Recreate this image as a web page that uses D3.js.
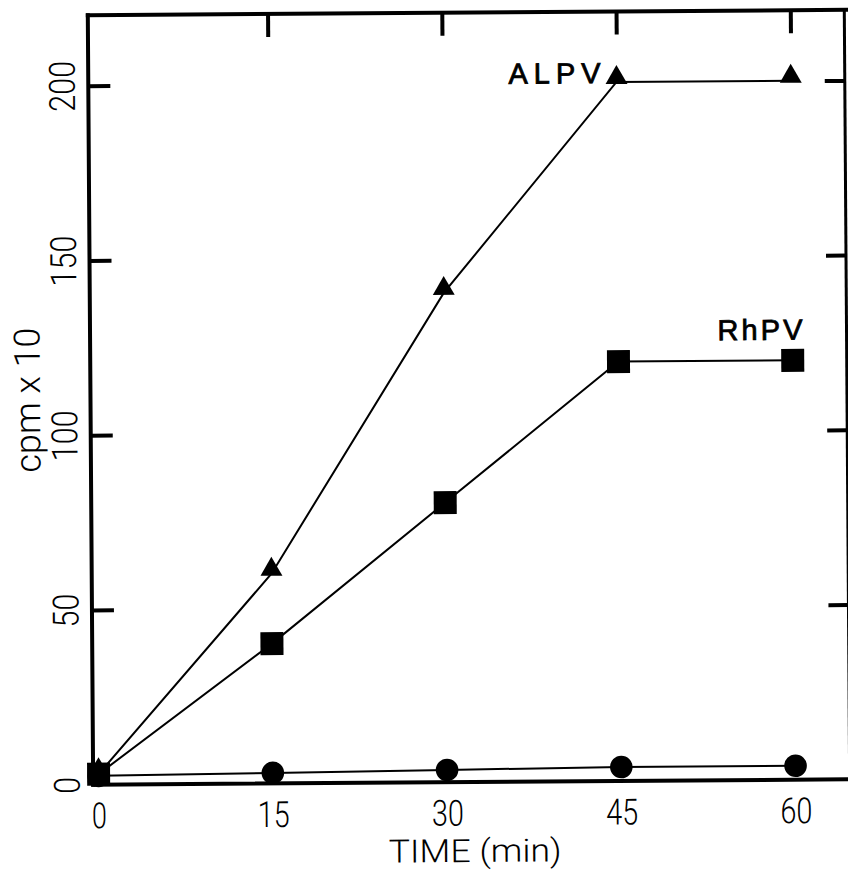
<!DOCTYPE html>
<html>
<head>
<meta charset="utf-8">
<script src="https://cdn.jsdelivr.net/npm/d3@7"></script>
<style>
  html, body { margin: 0; padding: 0; background: #fff; }
  svg { display: block; }
</style>
</head>
<body>
<script>
// Incorporated radioactivity over time for each virus
const timeMin    = [0, 15, 30, 45, 60];
const alpvCpm    = [3, 60, 140, 200, 200];
const rhpvCpm    = [3, 40, 80, 120, 120];
const controlCpm = [2.5, 3, 3.5, 4, 4];

const xTickValues = [0, 15, 30, 45, 60];
const yTickValues = [0, 50, 100, 150, 200];
const topTickValues = [15, 30, 45, 60];
const rightTickValues = [50, 100, 150, 200];

const xTitle = "TIME (min)";
const yTitle = "cpm x 10";
const alpvName = "ALPV";
const rhpvName = "RhPV";

const W = 848, H = 872;
const frame = { left: 90.5, right: 847, top: 12.5, bottom: 782 };
const axisFont = "Roboto, 'DejaVu Sans', sans-serif";
const labelFont = "'Liberation Sans', Arial, sans-serif";
const charW = 17;

const x = d3.scaleLinear().domain([0, 60]).range([96, 793]);
const y = d3.scaleLinear().domain([0, 200]).range([782, 83]);

const svg = d3.select("body").append("svg")
  .attr("width", W).attr("height", H)
  .attr("viewBox", `0 0 ${W} ${H}`);

svg.append("rect").attr("width", W).attr("height", H).attr("fill", "#fff");

// the whole plate sits at a very slight tilt
const g = svg.append("g").attr("transform", "rotate(-0.4, 470, 400)");

// frame
const frameG = g.append("g").attr("stroke", "#000").attr("stroke-linecap", "square");
frameG.append("line").attr("x1", frame.left).attr("x2", frame.left)
  .attr("y1", frame.top).attr("y2", frame.bottom).attr("stroke-width", 4);
frameG.append("line").attr("x1", frame.left).attr("x2", W + 4)
  .attr("y1", frame.top).attr("y2", frame.top).attr("stroke-width", 4);
frameG.append("line").attr("x1", frame.left).attr("x2", W + 4)
  .attr("y1", frame.bottom).attr("y2", frame.bottom).attr("stroke-width", 4);
frameG.append("line").attr("x1", frame.right).attr("x2", frame.right)
  .attr("y1", frame.top).attr("y2", frame.bottom).attr("stroke-width", 3);

function styleAxis(sel) {
  sel.select(".domain").remove();
  sel.attr("font-family", axisFont).attr("font-size", 36);
  sel.selectAll(".tick line").attr("stroke", "#000").attr("stroke-width", 4);
  sel.selectAll(".tick text").attr("fill", "#000").attr("font-weight", 300);
}

// left axis: inward ticks, rotated labels
const leftAxis = g.append("g").attr("transform", `translate(${frame.left},0)`)
  .call(d3.axisLeft(y).tickValues(yTickValues).tickSizeInner(-22).tickSizeOuter(0).tickPadding(0))
  .call(styleAxis);
leftAxis.selectAll(".tick line").filter(d => d === 0).remove();
leftAxis.selectAll(".tick text")
  .attr("x", null).attr("dy", null)
  .attr("text-anchor", "middle")
  .attr("transform", "translate(-13.5,0) rotate(-90)")
  .attr("textLength", d => String(d).length * charW)
  .attr("lengthAdjust", "spacingAndGlyphs");

// right axis: inward ticks only
g.append("g").attr("transform", `translate(${frame.right},0)`)
  .call(d3.axisRight(y).tickValues(rightTickValues).tickSizeInner(-20).tickSizeOuter(0).tickFormat(() => ""))
  .call(styleAxis);

// top axis: inward ticks only
g.append("g").attr("transform", `translate(0,${frame.top})`)
  .call(d3.axisTop(x).tickValues(topTickValues).tickSizeInner(-23).tickSizeOuter(0).tickFormat(() => ""))
  .call(styleAxis);

// bottom axis: labels only
const bottomAxis = g.append("g").attr("transform", `translate(0,${frame.bottom})`)
  .call(d3.axisBottom(x).tickValues(xTickValues).tickSize(0).tickPadding(0))
  .call(styleAxis);
bottomAxis.selectAll(".tick line").remove();
bottomAxis.selectAll(".tick text")
  .attr("y", 43.5).attr("dy", null)
  .attr("textLength", d => String(d).length * charW - 2)
  .attr("lengthAdjust", "spacingAndGlyphs");

// axis titles
g.append("text")
  .attr("x", 472).attr("y", 862)
  .attr("text-anchor", "middle")
  .attr("font-family", axisFont).attr("font-weight", 300).attr("font-size", 32)
  .attr("textLength", 173).attr("lengthAdjust", "spacingAndGlyphs")
  .text(xTitle);

g.append("text")
  .attr("transform", "translate(40,397) rotate(-90)")
  .attr("text-anchor", "middle")
  .attr("font-family", axisFont).attr("font-weight", 300).attr("font-size", 36)
  .attr("textLength", 145).attr("lengthAdjust", "spacingAndGlyphs")
  .text(yTitle);

// connecting lines
const line = d3.line().x((d, i) => x(timeMin[i])).y(d => y(d));
const lines = g.append("g").attr("fill", "none").attr("stroke", "#000").attr("stroke-width", 2);
[controlCpm, rhpvCpm, alpvCpm].forEach(s => lines.append("path").attr("d", line(s)));

// markers
const pts = s => s.map((v, i) => ({ t: timeMin[i], v }));

g.append("g").selectAll("circle").data(pts(controlCpm)).join("circle")
  .attr("cx", d => x(d.t)).attr("cy", d => y(d.v)).attr("r", 11.3).attr("fill", "#000");

const tri = d3.symbol(d3.symbolTriangle, 208);
g.append("g").selectAll("path").data(pts(alpvCpm)).join("path")
  .attr("d", tri)
  .attr("transform", d => `translate(${x(d.t)},${y(d.v) - 4.3})`)
  .attr("fill", "#000");

const sq = d3.symbol(d3.symbolSquare, 529);
g.append("g").selectAll("path").data(pts(rhpvCpm)).join("path")
  .attr("d", sq)
  .attr("transform", d => `translate(${x(d.t)},${y(d.v)})`)
  .attr("fill", "#000");

// series labels
const seriesLabel = (tx, ty, size, len, name) => g.append("text")
  .attr("x", tx).attr("y", ty)
  .attr("text-anchor", "end")
  .attr("font-family", labelFont).attr("font-size", size)
  .attr("fill", "#000").attr("stroke", "#000").attr("stroke-width", 0.8)
  .attr("textLength", len).attr("lengthAdjust", "spacing")
  .text(name);

seriesLabel(x(45) - 16, y(200) + 1, 29, 92, alpvName);
seriesLabel(x(60) + 10, y(120) - 20.6, 29, 85, rhpvName);
</script>
</body>
</html>
